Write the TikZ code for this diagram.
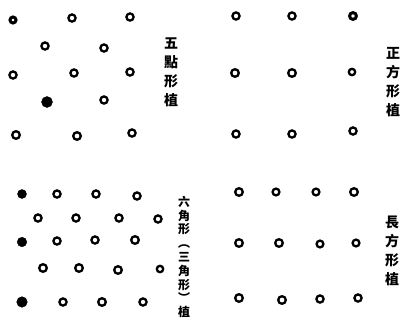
\documentclass[tikz,border=0pt]{standalone}
\usepackage{fontspec}
\newfontfamily\cjk{Noto Sans CJK TC}
\tikzset{
	hole/.style={line width=2.3pt},
	tree/.style={fill=black},
	label/.style={font=\cjk\bfseries\fontsize{14}{19}\selectfont, align=center, inner sep=0pt}
}

\begin{document}
\begin{tikzpicture}[x=1pt,y=-1pt]
		\useasboundingbox (0,0) rectangle (407,327);
		% quincunx
		\draw[hole,line width=3pt] (13,20) circle (3pt);
		\draw[hole] (72,18) circle (3.6pt) (130,17) circle (3.6pt);
		\draw[hole] (45,46) circle (3.6pt) (104,48) circle (3.6pt);
		\draw[hole] (13,75) circle (3.6pt) (74,73) circle (3.6pt) (130,72) circle (3.6pt);
		\filldraw[tree] (47,102) circle (5.5pt);
		\draw[hole] (104,100) circle (3.6pt);
		\draw[hole] (16,135) circle (3.8pt) (77,136) circle (3.8pt) (132,133) circle (3.6pt);
		\node[label] (quinc) at (171,72) {五\\點\\形\\植};
		% square
		\draw[hole] (236,16) circle (3.6pt) (292,16) circle (3.6pt);
		\draw[hole,line width=3pt] (353,16) circle (3.4pt);
		\draw[hole] (235,73) circle (3.8pt) (292,73) circle (3.8pt) (352,72) circle (3.2pt);
		\draw[hole] (236,134) circle (3.6pt) (292,134) circle (3.6pt) (353,131) circle (3.6pt);
		\node[label] (square) at (393,82) {正\\方\\形\\植};
		% hexagonal
		\filldraw[tree] (22,194) circle (4.5pt);
		\draw[hole] (57,194) circle (3.6pt) (96,194) circle (3.6pt) (137,196) circle (3.6pt);
		\draw[hole] (38,218) circle (3.6pt) (76,218) circle (3.6pt) (119,218) circle (3.6pt) (158,219) circle (3.6pt);
		\filldraw[tree] (22,242) circle (4.8pt);
		\draw[hole] (57,241) circle (3.6pt) (95,240) circle (3.6pt) (135,240) circle (3.8pt);
		\draw[hole] (43,268) circle (3.8pt) (79,268) circle (3.8pt) (118,270) circle (3.8pt) (160,269) circle (3.2pt);
		\filldraw[tree] (22,302) circle (5.3pt);
		\draw[hole] (63,302) circle (3.6pt) (102,302) circle (3.8pt) (143,302) circle (3.6pt);
		\node[label,font=\cjk\bfseries\fontsize{12}{13.8}\selectfont] (hexa) at (184,257) {六\\角\\形\\︵\\三\\角\\形\\︶\\植};
		% rectangle
		\draw[hole] (239,192) circle (3.8pt) (276,192) circle (3.4pt) (316,192) circle (3.4pt) (354,192) circle (3.8pt);
		\draw[hole] (239,243) circle (3.8pt) (279,243) circle (3.8pt) (320,244) circle (3.4pt) (356,243) circle (3.4pt);
		\draw[hole] (239,298) circle (3.8pt) (282,300) circle (3.8pt) (320,299) circle (3.6pt) (358,298) circle (3.6pt);
		\node[label] (rect) at (392,251) {長\\方\\形\\植};
\end{tikzpicture}
\end{document}
